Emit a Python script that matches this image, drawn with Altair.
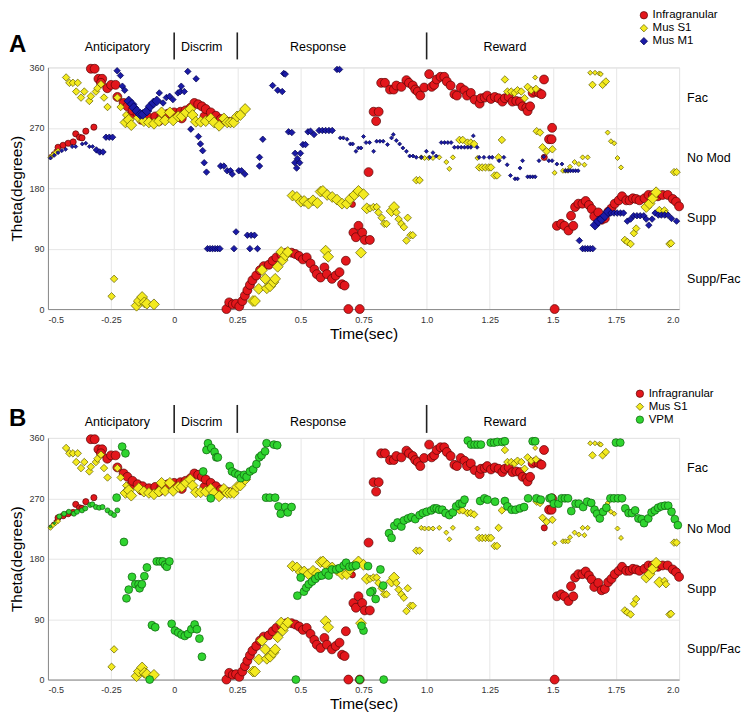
import altair as alt
import pandas as pd

FONT = "Liberation Sans"
W, H = 632, 242

PHASE_NAMES = ["Anticipatory", "Discrim", "Response", "Reward"]
PHASE_X = [-0.225, 0.109, 0.57, 1.31]
PHASE_BOUNDS = [0.0, 0.25, 1.0]
STATE_NAMES = ["Fac", "No Mod", "Supp", "Supp/Fac"]
STATE_Y = [315, 225, 135, 45]
X_TICKS = [-0.5, -0.25, 0, 0.25, 0.5, 0.75, 1.0, 1.25, 1.5, 1.75, 2.0]
Y_TICKS = [0, 90, 180, 270, 360]

# (time sec, theta deg, marker level 1=small 2=medium 3=large)
INFRA = [
    (-0.49, 228, 1), (-0.48, 232, 1), (-0.47, 236, 1), (-0.46, 241, 2), (-0.44, 244, 2),
    (-0.42, 247, 2), (-0.40, 249, 2), (-0.39, 261, 2), (-0.375, 256, 2), (-0.365, 255, 2),
    (-0.35, 265, 2), (-0.318, 271, 2),
    (-0.33, 358, 3), (-0.315, 358, 3), (-0.30, 343, 3), (-0.285, 343, 3), (-0.29, 337, 3),
    (-0.265, 329, 3), (-0.25, 334, 3), (-0.232, 334, 3), (-0.225, 316, 3), (-0.20, 307, 3),
    (-0.185, 302, 3), (-0.17, 290, 3), (-0.165, 296, 3), (-0.145, 291, 3), (-0.13, 282, 3),
    (-0.125, 288, 3), (-0.10, 285, 3), (-0.075, 287, 3), (-0.06, 280, 3), (-0.05, 288, 3),
    (-0.025, 291, 3), (0.0, 293, 3), (0.025, 294, 3), (0.03, 284, 3), (0.045, 296, 3),
    (0.065, 300, 3), (0.08, 307, 3), (0.095, 305, 3), (0.11, 302, 3), (0.12, 287, 3),
    (0.125, 298, 3), (0.145, 293, 3), (0.165, 288, 3), (0.185, 283, 3), (0.205, 280, 3),
    (0.22, 279, 3),
    (0.207, 0, 3), (0.218, 10, 3), (0.232, 7, 3), (0.245, 8, 3), (0.258, 4, 3), (0.27, 12, 3),
    (0.28, 20, 3), (0.29, 28, 3), (0.30, 36, 3), (0.31, 43, 3), (0.325, 50, 3), (0.34, 58, 3),
    (0.355, 64, 3), (0.375, 66, 3), (0.39, 72, 3), (0.405, 77, 3), (0.425, 81, 3), (0.445, 84, 3),
    (0.465, 84, 3), (0.48, 82, 3), (0.495, 79, 3), (0.51, 74, 3), (0.525, 77, 3), (0.54, 68, 3),
    (0.555, 59, 3), (0.565, 52, 3), (0.58, 47, 3), (0.595, 62, 3), (0.605, 52, 3), (0.625, 45, 3),
    (0.64, 50, 3), (0.655, 55, 3), (0.665, 37, 3), (0.675, 35, 3), (0.68, 72, 3), (0.69, 0, 3),
    (0.735, 0, 3),
    (0.71, 114, 3), (0.72, 107, 3), (0.73, 124, 3), (0.745, 114, 3), (0.755, 103, 3),
    (0.775, 103, 3), (0.77, 204, 3), (0.706, 156, 2),
    (0.79, 294, 3), (0.81, 294, 3), (0.80, 280, 3), (0.82, 337, 3), (0.835, 337, 3),
    (0.855, 327, 3), (0.87, 327, 3), (0.88, 333, 3), (0.90, 331, 3), (0.92, 341, 3),
    (0.93, 337, 3), (0.945, 333, 3), (0.955, 327, 3), (0.965, 324, 3), (0.975, 318, 3),
    (0.99, 330, 3), (1.01, 350, 3), (1.02, 331, 3), (1.03, 334, 3), (1.04, 342, 3),
    (1.055, 346, 3), (1.07, 346, 3), (1.08, 339, 3), (1.095, 333, 3), (1.11, 320, 3),
    (1.12, 318, 3), (1.135, 330, 3), (1.15, 326, 3), (1.16, 318, 3), (1.175, 322, 3),
    (1.19, 312, 3), (1.21, 306, 3), (1.215, 314, 3), (1.23, 315, 3), (1.24, 318, 3),
    (1.255, 313, 3), (1.27, 316, 3), (1.285, 314, 3), (1.30, 309, 3), (1.31, 314, 3),
    (1.325, 316, 3), (1.34, 309, 3), (1.355, 310, 3), (1.37, 309, 3), (1.38, 302, 3),
    (1.395, 300, 3), (1.40, 295, 3), (1.41, 302, 3), (1.42, 322, 3), (1.43, 324, 3),
    (1.445, 322, 3), (1.455, 320, 3), (1.465, 342, 3),
    (1.497, 270, 3), (1.485, 253, 3), (1.495, 253, 3), (1.466, 226, 2), (1.507, 0, 3),
    (1.516, 124, 3), (1.533, 127, 3), (1.546, 124, 3), (1.562, 117, 3), (1.572, 139, 3),
    (1.581, 124, 3), (1.588, 152, 3), (1.601, 157, 3), (1.617, 157, 3), (1.630, 161, 3),
    (1.643, 155, 3), (1.654, 149, 3), (1.664, 138, 3), (1.680, 144, 3), (1.693, 133, 3),
    (1.706, 135, 3), (1.719, 145, 3), (1.732, 150, 3), (1.745, 157, 3), (1.761, 162, 3),
    (1.774, 168, 3), (1.791, 162, 3), (1.804, 162, 3), (1.817, 165, 3), (1.830, 164, 3),
    (1.843, 162, 3), (1.863, 165, 3), (1.879, 170, 3), (1.896, 170, 3), (1.916, 168, 3),
    (1.935, 170, 3), (1.955, 170, 3), (1.975, 164, 3), (1.988, 160, 3), (2.0, 153, 3),
]

MUS_S1 = [
    (-0.49, 226, 1), (-0.48, 230, 1), (-0.47, 233, 1), (-0.46, 236, 1),
    (-0.428, 345, 2), (-0.415, 337, 2), (-0.401, 337, 2), (-0.382, 337, 2), (-0.388, 324, 2),
    (-0.369, 315, 2), (-0.356, 324, 2), (-0.336, 310, 2), (-0.33, 317, 2), (-0.31, 324, 2),
    (-0.304, 329, 2), (-0.29, 335, 2), (-0.278, 315, 2), (-0.264, 301, 2), (-0.225, 315, 2),
    (-0.212, 301, 2), (-0.19, 289, 2),
    (-0.193, 278, 3), (-0.18, 282, 3), (-0.17, 274, 3), (-0.14, 285, 3), (-0.12, 280, 3),
    (-0.10, 278, 3), (-0.08, 276, 3), (-0.06, 280, 3), (-0.05, 293, 3), (-0.036, 281, 3),
    (-0.017, 293, 3), (-0.004, 281, 3), (0.016, 287, 3), (0.03, 287, 3), (0.047, 293, 3),
    (0.064, 298, 3), (0.073, 289, 3), (0.086, 279, 3), (0.105, 279, 3), (0.125, 280, 3),
    (0.145, 284, 3), (0.158, 278, 3), (0.178, 273, 3), (0.197, 284, 3), (0.21, 278, 3),
    (0.223, 278, 3), (0.236, 278, 3), (0.249, 287, 3), (0.262, 289, 3), (0.281, 298, 3),
    (-0.238, 45, 2), (-0.248, 19, 2), (-0.149, 5, 3), (-0.14, 12, 3), (-0.127, 18, 3),
    (-0.118, 10, 3), (-0.108, 8, 3), (-0.08, 7, 3),
    (0.312, 12, 3), (0.32, 12, 3), (0.335, 30, 3), (0.348, 58, 3), (0.361, 45, 3),
    (0.367, 31, 3), (0.38, 34, 3), (0.393, 40, 3), (0.40, 45, 3), (0.41, 63, 3),
    (0.424, 85, 3), (0.43, 73, 3), (0.44, 80, 3), (0.45, 85, 3),
    (0.469, 169, 3), (0.486, 167, 3), (0.502, 160, 3), (0.515, 161, 3), (0.532, 157, 3),
    (0.55, 162, 3), (0.567, 158, 3), (0.58, 175, 3), (0.589, 176, 3), (0.606, 170, 3),
    (0.626, 167, 3), (0.645, 163, 3), (0.665, 157, 3), (0.684, 157, 3), (0.697, 164, 3),
    (0.714, 170, 3), (0.73, 176, 3), (0.75, 171, 3), (0.763, 150, 3),
    (0.776, 150, 2), (0.789, 152, 2), (0.802, 152, 2), (0.809, 144, 2), (0.822, 136, 2),
    (0.832, 127, 2), (0.841, 127, 2), (0.861, 146, 3), (0.871, 152, 3), (0.88, 144, 2),
    (0.889, 134, 2), (0.90, 127, 2), (0.91, 122, 2), (0.925, 136, 2), (0.936, 110, 2),
    (0.945, 110, 2), (0.92, 102, 2),
    (0.60, 87, 3), (0.61, 78, 3), (0.74, 84, 3),
    (0.959, 192, 2), (0.972, 192, 2), (0.979, 226, 1), (0.992, 225, 1), (1.008, 225, 1),
    (1.025, 225, 1), (1.05, 226, 1), (1.078, 219, 1), (1.09, 209, 1), (1.104, 226, 1),
    (1.13, 252, 2), (1.143, 252, 2), (1.162, 248, 2), (1.175, 248, 2), (1.188, 246, 2),
    (1.201, 225, 1), (1.208, 211, 2), (1.22, 211, 2), (1.233, 211, 2), (1.246, 211, 2),
    (1.255, 211, 2), (1.269, 199, 2), (1.279, 199, 2), (1.285, 226, 2), (1.298, 252, 2),
    (1.436, 265, 2), (1.449, 263, 2), (1.459, 241, 2), (1.475, 235, 2), (1.498, 238, 2),
    (1.507, 203, 1), (1.54, 206, 1), (1.55, 206, 1), (1.56, 206, 1), (1.568, 212, 1),
    (1.586, 219, 1), (1.603, 216, 1), (1.618, 226, 1), (1.625, 215, 1), (1.638, 226, 1),
    (1.717, 263, 1), (1.73, 250, 1), (1.743, 247, 1), (1.756, 225, 1), (1.77, 211, 1),
    (1.98, 204, 2), (1.99, 204, 2),
    (1.31, 342, 2), (1.32, 324, 2), (1.335, 324, 2), (1.348, 322, 2), (1.36, 326, 2),
    (1.375, 324, 2), (1.388, 314, 2), (1.40, 331, 2), (1.414, 326, 2), (1.43, 345, 1),
    (1.433, 328, 2), (1.648, 352, 1), (1.667, 352, 1), (1.684, 351, 1), (1.69, 350, 1),
    (1.657, 334, 2), (1.697, 334, 2), (1.71, 339, 2),
    (1.87, 152, 3), (1.883, 157, 3), (1.896, 165, 3), (1.909, 174, 3), (1.922, 145, 3),
    (1.942, 147, 2), (1.948, 142, 2), (1.785, 103, 2), (1.795, 100, 2), (1.808, 97, 2),
    (1.821, 113, 2), (1.83, 120, 2), (1.962, 97, 2), (1.968, 98, 2),
]

MUS_M1 = [
    (-0.49, 225, 1), (-0.475, 229, 1), (-0.46, 233, 1), (-0.445, 236, 1), (-0.43, 238, 1),
    (-0.404, 242, 1), (-0.39, 242, 1), (-0.364, 246, 1), (-0.35, 247, 1), (-0.336, 242, 1),
    (-0.323, 242, 1), (-0.308, 237, 2), (-0.295, 234, 2), (-0.282, 234, 2), (-0.27, 256, 2),
    (-0.257, 256, 2), (-0.244, 256, 2),
    (-0.226, 355, 2), (-0.213, 348, 2), (-0.205, 332, 2), (-0.196, 326, 2), (-0.18, 310, 3),
    (-0.167, 305, 3), (-0.16, 300, 3), (-0.148, 295, 3), (-0.134, 290, 3), (-0.124, 290, 3),
    (-0.108, 295, 3), (-0.095, 302, 3), (-0.082, 307, 3), (-0.069, 310, 3), (-0.059, 322, 2),
    (-0.044, 307, 2), (-0.031, 315, 2), (-0.018, 317, 2), (-0.005, 312, 2), (0.015, 322, 2),
    (0.024, 324, 2), (0.028, 332, 2), (0.04, 324, 2), (0.054, 354, 2), (0.087, 343, 2),
    (0.066, 268, 2), (0.096, 257, 2), (0.104, 246, 2), (0.113, 236, 2),
    (0.119, 218, 2), (0.128, 204, 2), (0.184, 213, 2), (0.197, 213, 2), (0.21, 206, 2),
    (0.223, 206, 2), (0.23, 201, 2), (0.256, 206, 2), (0.267, 206, 2), (0.28, 201, 2),
    (0.338, 213, 2), (0.478, 218, 2), (0.497, 218, 2), (0.485, 210, 2),
    (0.132, 90, 2), (0.142, 90, 2), (0.152, 90, 2), (0.162, 90, 2), (0.172, 90, 2),
    (0.181, 90, 2), (0.237, 90, 2), (0.30, 90, 2), (0.33, 90, 2), (0.245, 115, 2),
    (0.29, 110, 2), (0.305, 110, 2), (0.318, 110, 2),
    (0.351, 253, 2), (0.338, 226, 2), (0.39, 333, 2), (0.41, 326, 2), (0.434, 351, 2),
    (0.428, 324, 2), (0.44, 350, 2), (0.453, 264, 2), (0.466, 263, 2), (0.479, 232, 2),
    (0.488, 224, 2), (0.50, 232, 2), (0.51, 245, 2), (0.52, 245, 2), (0.53, 264, 2),
    (0.54, 265, 2), (0.554, 260, 2), (0.574, 266, 2), (0.587, 266, 2), (0.60, 266, 2),
    (0.613, 266, 2), (0.626, 266, 2), (0.645, 357, 2), (0.655, 357, 2),
    (0.658, 255, 1), (0.67, 255, 1), (0.685, 253, 1), (0.698, 246, 1), (0.707, 246, 1),
    (0.72, 235, 1), (0.73, 240, 1), (0.74, 240, 1), (0.75, 257, 1), (0.76, 248, 1),
    (0.774, 248, 1), (0.79, 235, 1), (0.802, 250, 1), (0.815, 250, 1), (0.828, 250, 1),
    (0.845, 245, 1), (0.861, 255, 1), (0.868, 260, 1), (0.88, 251, 1), (0.893, 246, 1),
    (0.906, 240, 1), (0.92, 235, 1), (0.933, 228, 1), (0.946, 228, 1), (0.959, 226, 1),
    (0.979, 226, 1), (0.999, 235, 1), (1.012, 226, 1), (1.025, 233, 1), (1.038, 228, 1),
    (1.058, 248, 1), (1.071, 248, 1), (1.084, 248, 1), (1.097, 248, 1), (1.11, 241, 1),
    (1.124, 241, 1), (1.137, 241, 1), (1.15, 241, 1), (1.163, 241, 1), (1.175, 241, 1),
    (1.185, 258, 1), (1.20, 241, 1), (1.208, 226, 1), (1.227, 226, 1), (1.248, 226, 1),
    (1.26, 226, 1), (1.287, 221, 1), (1.306, 226, 1), (1.319, 215, 1), (1.332, 199, 1),
    (1.35, 194, 1), (1.36, 194, 1), (1.37, 210, 1), (1.38, 221, 1), (1.40, 197, 1),
    (1.41, 197, 1), (1.42, 197, 1), (1.43, 197, 1), (1.445, 221, 1), (1.464, 227, 1),
    (1.484, 221, 1), (1.497, 221, 1), (1.516, 216, 1), (1.536, 216, 1), (1.55, 206, 1),
    (1.56, 206, 1), (1.57, 206, 1), (1.58, 206, 1), (1.59, 206, 1), (1.60, 206, 1),
    (1.605, 102, 2), (1.618, 90, 2), (1.628, 90, 2), (1.638, 90, 2), (1.648, 90, 2),
    (1.658, 90, 2), (1.667, 125, 3), (1.68, 131, 3), (1.693, 134, 3), (1.706, 139, 3),
    (1.719, 145, 3), (1.73, 143, 2), (1.742, 143, 2), (1.755, 143, 2), (1.768, 143, 2),
    (1.78, 143, 2), (1.795, 131, 2), (1.808, 134, 2), (1.82, 139, 2), (1.833, 139, 2),
    (1.846, 139, 2), (1.86, 139, 2), (1.87, 134, 2), (1.88, 125, 2), (1.893, 134, 2),
    (1.905, 143, 2), (1.918, 140, 2), (1.93, 140, 2), (1.943, 140, 2), (1.956, 140, 2),
    (1.97, 135, 2), (1.99, 131, 2),
]

VPM = [
    (-0.49, 228, 1), (-0.475, 233, 1), (-0.455, 243, 2), (-0.436, 247, 2), (-0.417, 250, 2),
    (-0.397, 247, 2), (-0.385, 250, 2), (-0.365, 252, 2), (-0.352, 255, 2), (-0.333, 260, 2),
    (-0.324, 261, 2), (-0.31, 257, 2), (-0.297, 256, 2), (-0.284, 257, 2), (-0.264, 252, 2),
    (-0.251, 248, 2), (-0.238, 245, 2), (-0.225, 252, 2), (-0.228, 271, 3), (-0.206, 347, 3),
    (-0.193, 337, 3),
    (-0.199, 205, 3), (-0.189, 121, 3), (-0.18, 134, 3), (-0.167, 153, 3), (-0.154, 142, 3),
    (-0.141, 142, 3), (-0.137, 136, 3), (-0.128, 142, 3), (-0.118, 154, 3), (-0.108, 167, 3),
    (-0.069, 176, 3), (-0.056, 176, 3), (-0.045, 176, 3), (-0.036, 171, 3), (-0.029, 168, 3),
    (-0.019, 176, 3), (-0.088, 81, 3), (-0.075, 78, 3), (-0.097, 0, 3), (-0.01, 83, 3),
    (0.003, 73, 3), (0.016, 70, 3), (0.029, 67, 3), (0.042, 65, 3), (0.055, 68, 3),
    (0.068, 75, 3), (0.081, 82, 3), (0.09, 75, 3), (0.10, 61, 3), (0.11, 34, 3),
    (0.115, 310, 3), (0.128, 342, 3), (0.134, 352, 3), (0.147, 345, 3), (0.16, 339, 3),
    (0.167, 331, 3), (0.173, 331, 3), (0.145, 270, 3), (0.22, 318, 3), (0.229, 310, 3),
    (0.242, 307, 3), (0.255, 305, 3), (0.264, 300, 3), (0.277, 305, 3), (0.287, 302, 3),
    (0.30, 310, 3), (0.313, 313, 3), (0.326, 321, 3), (0.337, 331, 3), (0.346, 334, 3),
    (0.36, 340, 3), (0.366, 352, 3), (0.395, 350, 3), (0.408, 349, 3), (0.364, 271, 3),
    (0.379, 271, 3), (0.40, 271, 3), (0.413, 258, 3), (0.422, 247, 3), (0.44, 257, 3),
    (0.45, 249, 3), (0.465, 257, 3),
    (0.482, 0, 3), (0.488, 125, 3), (0.501, 152, 3), (0.514, 131, 3), (0.523, 137, 3),
    (0.533, 142, 3), (0.546, 146, 3), (0.559, 150, 3), (0.572, 154, 3), (0.585, 155, 3),
    (0.60, 160, 3), (0.612, 155, 3), (0.625, 164, 3), (0.642, 164, 3), (0.655, 166, 3),
    (0.672, 170, 3), (0.681, 174, 3), (0.694, 168, 3), (0.707, 169, 3), (0.72, 170, 3),
    (0.768, 169, 3), (0.817, 164, 3), (0.828, 140, 3), (0.785, 132, 3), (0.777, 130, 3),
    (0.798, 120, 3), (0.75, 73, 3), (0.742, 80, 3), (0.735, 0, 3), (0.83, 0, 3),
    (0.851, 218, 3), (0.861, 211, 3), (0.872, 229, 3), (0.885, 234, 3), (0.90, 228, 3),
    (0.91, 237, 3), (0.926, 240, 3), (0.94, 242, 3), (0.955, 239, 3), (0.972, 245, 3),
    (0.985, 248, 3), (1.0, 250, 3), (1.018, 252, 3), (1.03, 255, 3), (1.04, 255, 3),
    (1.05, 253, 3), (1.062, 253, 3), (1.075, 248, 3), (1.09, 245, 3), (1.104, 249, 3),
    (1.117, 258, 3), (1.13, 262, 3), (1.141, 262, 3), (1.15, 268, 3), (1.212, 266, 3),
    (1.229, 270, 3), (1.241, 268, 3), (1.271, 265, 3), (1.31, 266, 3), (1.32, 258, 3),
    (1.337, 253, 3), (1.352, 253, 3), (1.369, 255, 3), (1.386, 257, 3), (1.402, 270, 3),
    (1.435, 270, 3), (1.452, 268, 3), (1.487, 270, 3), (1.494, 271, 3), (1.504, 262, 3),
    (1.522, 262, 3), (1.535, 270, 3), (1.548, 270, 3), (1.56, 270, 3), (1.573, 251, 3),
    (1.59, 262, 3), (1.603, 262, 3), (1.62, 257, 3), (1.636, 265, 3), (1.652, 263, 3),
    (1.665, 253, 3), (1.675, 247, 3), (1.686, 240, 3), (1.699, 250, 3), (1.712, 256, 3),
    (1.728, 270, 3), (1.742, 270, 3), (1.758, 270, 3), (1.774, 270, 3), (1.787, 255, 3),
    (1.80, 248, 3), (1.813, 248, 3), (1.826, 252, 3), (1.839, 240, 3), (1.852, 239, 3),
    (1.861, 233, 3), (1.878, 240, 3), (1.891, 249, 3), (1.904, 252, 3), (1.917, 256, 3),
    (1.93, 258, 3), (1.944, 259, 3), (1.957, 259, 3), (1.97, 250, 3), (1.983, 239, 3),
    (1.995, 230, 3),
    (1.163, 356, 3), (1.176, 350, 3), (1.19, 350, 3), (1.202, 350, 3), (1.215, 350, 3),
    (1.254, 353, 3), (1.267, 353, 3), (1.28, 354, 3), (1.30, 354, 3), (1.31, 355, 3),
    (1.42, 355, 3), (1.43, 355, 3), (1.75, 353, 3), (1.767, 353, 3),
]

SERIES = {
    "Infragranular": INFRA,
    "Mus S1": MUS_S1,
    "Mus M1": MUS_M1,
    "VPM": VPM,
}

# styles: shape, fill, stroke, marker area for levels 1..3
STYLE = {
    "Infragranular": ("circle", "#e3171c", "#5a0505", [9, 38, 80]),
    "Mus S1": ("diamond", "#f3ea1f", "#5e5a00", [25, 56, 118]),
    "Mus M1": ("diamond", "#1b1ba6", "#00004d", [16, 42, 96]),
    "VPM": ("circle", "#2fd42f", "#0d5d0d", [6, 25, 62]),
}

XS = alt.Scale(domain=[-0.5, 2.0], nice=False, zero=False)
YS = alt.Scale(domain=[0, 360], nice=False, zero=False)

XAX = alt.Axis(
    values=X_TICKS, format=".2~f",
    labelExpr="datum.value == 1 ? '1.0' : datum.value == 2 ? '2.0' : replace(datum.label, '\u2212', '-')",
    grid=True, gridColor="#e6e6e6", domainColor="#8a8a8a", ticks=False, tickSize=0,
    labelFont=FONT, labelFontSize=9, labelColor="#333", labelPadding=6,
    titleFont=FONT, titleFontSize=15.5, titleFontWeight="normal", titleColor="#000",
    titlePadding=2)
YAX = alt.Axis(
    values=Y_TICKS, grid=True, gridColor="#e6e6e6", domainColor="#8a8a8a",
    ticks=False, tickSize=0,
    labelFont=FONT, labelFontSize=9, labelColor="#333", labelPadding=4,
    titleFont=FONT, titleFontSize=15.5, titleFontWeight="normal", titleColor="#000",
    titlePadding=4)
XT = "Time(sec)"
YT = "Theta(degrees)"


def build_df(names):
    rows = []
    for n in names:
        sizes = STYLE[n][3]
        for (t, th, lv) in SERIES[n]:
            rows.append({"x": t, "y": th, "series": n, "sz": sizes[lv - 1]})
    return pd.DataFrame(rows)


def panel(letter, names, leg_x, leg_y, phase_y, rule_y, rule_y2, letter_y):
    df = build_df(names)
    legend = alt.Legend(
        orient="none", legendX=leg_x, legendY=leg_y, title=None,
        labelFont=FONT, labelFontSize=11.5, labelColor="#000",
        symbolSize=55, symbolStrokeWidth=0.7, rowPadding=0, labelOffset=3, padding=0,
    )
    pts = alt.Chart(df).mark_point(filled=True, opacity=1, fillOpacity=1, strokeWidth=0.7).encode(
        x=alt.X("x:Q", scale=XS, title=XT, axis=XAX),
        y=alt.Y("y:Q", scale=YS, title=YT, axis=YAX),
        fill=alt.Fill("series:N", scale=alt.Scale(domain=names, range=[STYLE[n][1] for n in names]), legend=legend),
        stroke=alt.Stroke("series:N", scale=alt.Scale(domain=names, range=[STYLE[n][2] for n in names]), legend=legend),
        shape=alt.Shape("series:N", scale=alt.Scale(domain=names, range=[STYLE[n][0] for n in names]), legend=legend),
        size=alt.Size("sz:Q", scale=None),
    )
    rules = alt.Chart(pd.DataFrame({"x": PHASE_BOUNDS})).mark_rule(color="#222", strokeWidth=1.6).encode(
        x=alt.X("x:Q", scale=XS, title=XT, axis=XAX), y=alt.value(rule_y), y2=alt.value(rule_y2))
    phases = alt.Chart(pd.DataFrame({"x": PHASE_X, "t": PHASE_NAMES})).mark_text(
        font=FONT, fontSize=12.5, align="center", baseline="alphabetic", color="#000").encode(
        x=alt.X("x:Q", scale=XS, title=XT, axis=XAX), y=alt.value(phase_y), text="t:N")
    states = alt.Chart(pd.DataFrame({"y": STATE_Y, "t": STATE_NAMES})).mark_text(
        font=FONT, fontSize=12.5, align="left", baseline="middle", color="#000").encode(
        x=alt.value(W + 8), y=alt.Y("y:Q", scale=YS, title=YT, axis=YAX), text="t:N")
    lab = alt.Chart(pd.DataFrame({"t": [letter]})).mark_text(
        font=FONT, fontSize=24, fontWeight="bold", align="left", baseline="middle", color="#000").encode(
        x=alt.value(-39), y=alt.value(letter_y), text="t:N")
    return alt.layer(pts, rules, phases, states, lab).properties(width=W, height=H)


A = panel("A", ["Infragranular", "Mus S1", "Mus M1"], 591, -58, -16, -35, -8, -22)
B = panel("B", ["Infragranular", "Mus S1", "VPM"], 587, -50, -12, -33, -5, -19)

chart = alt.vconcat(A, B, spacing=129, bounds="flush").resolve_scale(
    fill="independent", stroke="independent", shape="independent"
).resolve_legend(
    fill="independent", stroke="independent", shape="independent"
).properties(padding=0).configure_view(strokeWidth=0).configure(font=FONT)

chart.save("out.html", embed_options={"renderer": "svg", "actions": False})
